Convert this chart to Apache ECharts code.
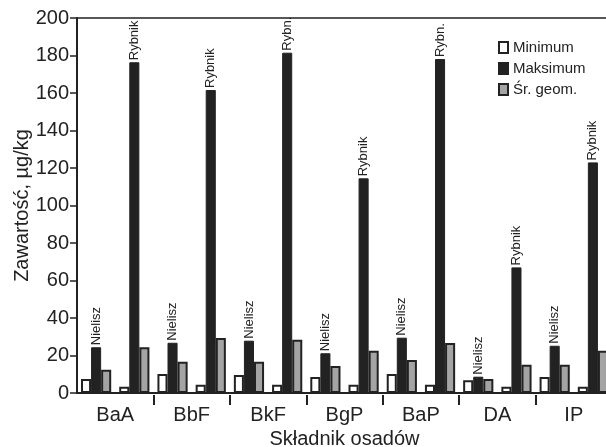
<!DOCTYPE html>
<html>
<head>
<meta charset="utf-8">
<script src="https://cdn.jsdelivr.net/npm/echarts@6/dist/echarts.min.js"></script>
<style>
html,body{margin:0;padding:0;background:#fff;}
#c{width:606px;height:447px;}
</style>
</head>
<body>
<div id="c"></div>
<script>
// Data
var categories = ['BaA', 'BbF', 'BkF', 'BgP', 'BaP', 'DA', 'IP'];
var sites = ['Nielisz', 'Rybnik'];
var minimum = [7.5, 3.4, 10.1, 4.4, 9.6, 4.4, 8.5, 4.4, 10.1, 4.4, 6.8, 3.4, 8.5, 3.4];
var maximum = [24.4, 176.4, 26.8, 161.6, 27.9, 181.5, 21.2, 114.5, 29.5, 178.1, 8.7, 67, 25.2, 123];
var geomMean = [12.4, 24.4, 16.7, 29.3, 16.7, 28.4, 14.4, 22.6, 17.6, 26.7, 7.5, 15.1, 15.1, 22.6];
var maxLabels = ['Nielisz', 'Rybnik', 'Nielisz', 'Rybnik', 'Nielisz', 'Rybn.', 'Nielisz', 'Rybnik',
                 'Nielisz', 'Rybn.', 'Nielisz', 'Rybnik', 'Nielisz', 'Rybnik'];
var seriesNames = ['Minimum', 'Maksimum', 'Śr. geom.'];
var yTicks = {min: 0, max: 200, interval: 20};

var FONT = "'Liberation Sans', Arial, Helvetica, sans-serif";
var INK = '#222';
var subCats = [];
categories.forEach(function (c) { sites.forEach(function (s) { subCats.push(c + ' ' + s); }); });

var chart = echarts.init(document.getElementById('c'), null, {renderer: 'canvas'});
var styles = [
  {color: '#ffffff', borderColor: INK, borderWidth: 2},
  {color: INK, borderColor: INK, borderWidth: 1},
  {color: '#a4a4a4', borderColor: INK, borderWidth: 2}
];
var legendText = {fontFamily: FONT, fontSize: 15, color: INK, lineHeight: 15};
chart.setOption({
  animation: false,
  backgroundColor: '#fff',
  textStyle: {fontFamily: FONT, color: INK},
  grid: {left: 77, top: 18, width: 535, height: 375, containLabel: false, outerBoundsMode: 'none'},
  legend: {
    orient: 'vertical', left: 498, top: 40, padding: 0, itemWidth: 9, itemHeight: 11, itemGap: 6,
    textStyle: legendText,
    data: seriesNames.map(function (n, i) {
      return {name: n, icon: 'rect', textStyle: legendText,
              itemStyle: {color: styles[i].color, borderColor: INK, borderWidth: 2}};
    })
  },
  xAxis: [
    {
      type: 'category', data: subCats, position: 'bottom', gridIndex: 0,
      axisLine: {show: true, lineStyle: {color: INK, width: 2}},
      axisTick: {show: false}, axisLabel: {show: false}, splitLine: {show: false}
    },
    {
      type: 'category', data: categories, position: 'bottom', gridIndex: 0, offset: 2,
      axisLine: {show: false},
      axisTick: {show: true, length: 10, lineStyle: {color: INK, width: 2},
        interval: function (idx) { return idx !== 0; }},
      axisLabel: {show: true, fontSize: 20, color: INK, fontFamily: FONT, margin: 10, interval: 0},
      name: 'Składnik osadów', nameLocation: 'middle', nameGap: 34, nameMoveOverlap: false,
      nameTextStyle: {fontSize: 20, color: INK, fontFamily: FONT},
      splitLine: {show: false}
    },
    {
      type: 'category', data: categories, position: 'top', gridIndex: 0,
      axisLine: {show: true, lineStyle: {color: INK, width: 1.5}},
      axisTick: {show: false}, axisLabel: {show: false}, splitLine: {show: false}
    }
  ],
  yAxis: {
    type: 'value', min: yTicks.min, max: yTicks.max, interval: yTicks.interval,
    axisLine: {show: true, lineStyle: {color: INK, width: 2}},
    axisTick: {show: true, length: 7, lineStyle: {color: INK, width: 1.5}},
    axisLabel: {fontSize: 20, color: INK, fontFamily: FONT, margin: 8},
    splitLine: {show: false},
    name: 'Zawartość, µg/kg', nameLocation: 'middle', nameGap: 45, nameMoveOverlap: false,
    nameTextStyle: {fontSize: 20, color: INK, fontFamily: FONT}
  },
  series: [
    {name: seriesNames[0], type: 'bar', xAxisIndex: 0, data: minimum,
     barGap: '0%', barCategoryGap: '21%', itemStyle: styles[0]},
    {name: seriesNames[1], type: 'bar', xAxisIndex: 0, data: maximum,
     barGap: '0%', barCategoryGap: '21%', itemStyle: styles[1],
     label: {show: true, position: 'top', rotate: 90, align: 'left', verticalAlign: 'middle',
       distance: 2, fontSize: 13, color: INK, fontFamily: FONT,
       formatter: function (p) { return maxLabels[p.dataIndex]; }}},
    {name: seriesNames[2], type: 'bar', xAxisIndex: 0, data: geomMean,
     barGap: '0%', barCategoryGap: '21%', itemStyle: styles[2]}
  ]
});
</script>
</body>
</html>
